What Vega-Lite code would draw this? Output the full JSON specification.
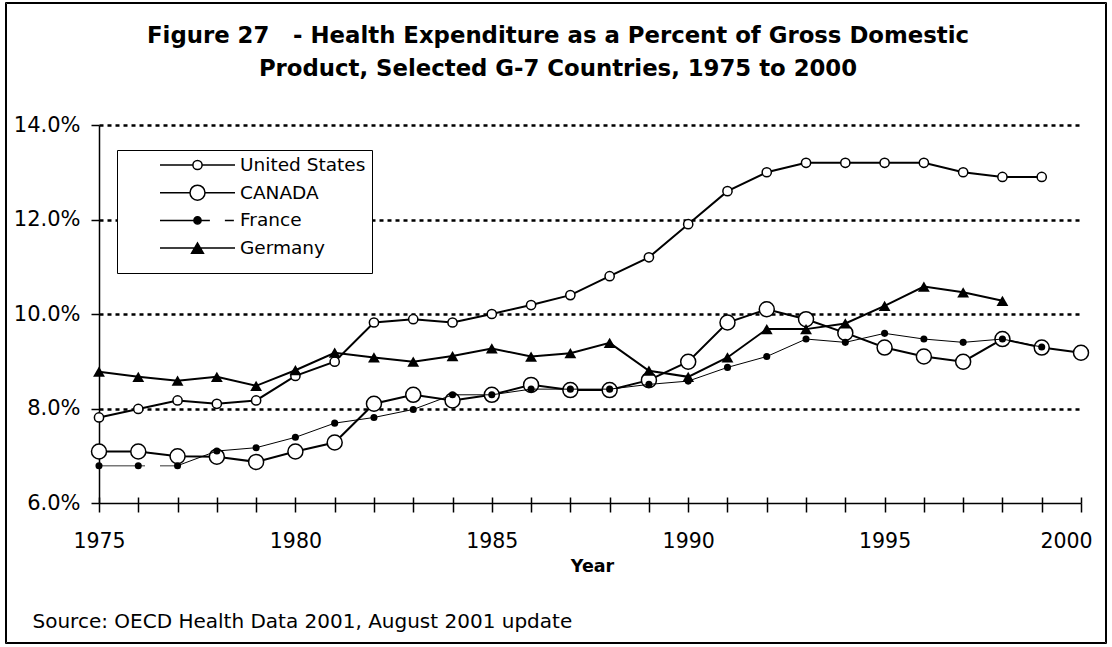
{
  "$schema": "https://vega.github.io/schema/vega-lite/v6.json",
  "width": 982,
  "height": 378,
  "autosize": {"type": "none"},
  "padding": {"left": 99, "top": 125, "right": 31, "bottom": 144},
  "background": "white",
  "title": {
    "text": ["Figure 27\u00a0\u00a0\u00a0- Health Expenditure as a Percent of Gross Domestic", "Product, Selected G-7 Countries, 1975 to 2000"],
    "font": "DejaVu Sans",
    "fontSize": 22.8,
    "fontWeight": "bold",
    "color": "black",
    "lineHeight": 33,
    "anchor": "middle",
    "frame": "group",
    "dx": -32,
    "offset": -79
  },
  "config": {"view": {"stroke": null}, "font": "DejaVu Sans"},
  "data": {
    "values": [
      {"country": "United States", "year": 1975, "value": 7.81},
      {"country": "United States", "year": 1976, "value": 7.99},
      {"country": "United States", "year": 1977, "value": 8.17},
      {"country": "United States", "year": 1978, "value": 8.10},
      {"country": "United States", "year": 1979, "value": 8.17},
      {"country": "United States", "year": 1980, "value": 8.69},
      {"country": "United States", "year": 1981, "value": 8.99},
      {"country": "United States", "year": 1982, "value": 9.82},
      {"country": "United States", "year": 1983, "value": 9.89},
      {"country": "United States", "year": 1984, "value": 9.82},
      {"country": "United States", "year": 1985, "value": 10.0},
      {"country": "United States", "year": 1986, "value": 10.19},
      {"country": "United States", "year": 1987, "value": 10.4},
      {"country": "United States", "year": 1988, "value": 10.8},
      {"country": "United States", "year": 1989, "value": 11.2},
      {"country": "United States", "year": 1990, "value": 11.9},
      {"country": "United States", "year": 1991, "value": 12.6},
      {"country": "United States", "year": 1992, "value": 13.0},
      {"country": "United States", "year": 1993, "value": 13.2},
      {"country": "United States", "year": 1994, "value": 13.2},
      {"country": "United States", "year": 1995, "value": 13.2},
      {"country": "United States", "year": 1996, "value": 13.2},
      {"country": "United States", "year": 1997, "value": 13.0},
      {"country": "United States", "year": 1998, "value": 12.9},
      {"country": "United States", "year": 1999, "value": 12.9},
      {"country": "CANADA", "year": 1975, "value": 7.09},
      {"country": "CANADA", "year": 1976, "value": 7.09},
      {"country": "CANADA", "year": 1977, "value": 6.99},
      {"country": "CANADA", "year": 1978, "value": 6.98},
      {"country": "CANADA", "year": 1979, "value": 6.87},
      {"country": "CANADA", "year": 1980, "value": 7.09},
      {"country": "CANADA", "year": 1981, "value": 7.28},
      {"country": "CANADA", "year": 1982, "value": 8.10},
      {"country": "CANADA", "year": 1983, "value": 8.29},
      {"country": "CANADA", "year": 1984, "value": 8.17},
      {"country": "CANADA", "year": 1985, "value": 8.29},
      {"country": "CANADA", "year": 1986, "value": 8.50},
      {"country": "CANADA", "year": 1987, "value": 8.39},
      {"country": "CANADA", "year": 1988, "value": 8.39},
      {"country": "CANADA", "year": 1989, "value": 8.60},
      {"country": "CANADA", "year": 1990, "value": 8.99},
      {"country": "CANADA", "year": 1991, "value": 9.82},
      {"country": "CANADA", "year": 1992, "value": 10.10},
      {"country": "CANADA", "year": 1993, "value": 9.89},
      {"country": "CANADA", "year": 1994, "value": 9.60},
      {"country": "CANADA", "year": 1995, "value": 9.29},
      {"country": "CANADA", "year": 1996, "value": 9.10},
      {"country": "CANADA", "year": 1997, "value": 8.99},
      {"country": "CANADA", "year": 1998, "value": 9.47},
      {"country": "CANADA", "year": 1999, "value": 9.29},
      {"country": "CANADA", "year": 2000, "value": 9.18},
      {"country": "France", "year": 1975, "value": 6.79},
      {"country": "France", "year": 1976, "value": 6.79},
      {"country": "France", "year": 1977, "value": 6.79},
      {"country": "France", "year": 1978, "value": 7.10},
      {"country": "France", "year": 1979, "value": 7.17},
      {"country": "France", "year": 1980, "value": 7.39},
      {"country": "France", "year": 1981, "value": 7.69},
      {"country": "France", "year": 1982, "value": 7.81},
      {"country": "France", "year": 1983, "value": 7.98},
      {"country": "France", "year": 1984, "value": 8.29},
      {"country": "France", "year": 1985, "value": 8.29},
      {"country": "France", "year": 1986, "value": 8.41},
      {"country": "France", "year": 1987, "value": 8.41},
      {"country": "France", "year": 1988, "value": 8.41},
      {"country": "France", "year": 1989, "value": 8.51},
      {"country": "France", "year": 1990, "value": 8.58},
      {"country": "France", "year": 1991, "value": 8.87},
      {"country": "France", "year": 1992, "value": 9.10},
      {"country": "France", "year": 1993, "value": 9.47},
      {"country": "France", "year": 1994, "value": 9.40},
      {"country": "France", "year": 1995, "value": 9.59},
      {"country": "France", "year": 1996, "value": 9.47},
      {"country": "France", "year": 1997, "value": 9.40},
      {"country": "France", "year": 1998, "value": 9.47},
      {"country": "France", "year": 1999, "value": 9.30},
      {"country": "Germany", "year": 1975, "value": 8.78},
      {"country": "Germany", "year": 1976, "value": 8.67},
      {"country": "Germany", "year": 1977, "value": 8.59},
      {"country": "Germany", "year": 1978, "value": 8.67},
      {"country": "Germany", "year": 1979, "value": 8.48},
      {"country": "Germany", "year": 1980, "value": 8.81},
      {"country": "Germany", "year": 1981, "value": 9.18},
      {"country": "Germany", "year": 1982, "value": 9.08},
      {"country": "Germany", "year": 1983, "value": 8.99},
      {"country": "Germany", "year": 1984, "value": 9.11},
      {"country": "Germany", "year": 1985, "value": 9.27},
      {"country": "Germany", "year": 1986, "value": 9.10},
      {"country": "Germany", "year": 1987, "value": 9.17},
      {"country": "Germany", "year": 1988, "value": 9.39},
      {"country": "Germany", "year": 1989, "value": 8.80},
      {"country": "Germany", "year": 1990, "value": 8.67},
      {"country": "Germany", "year": 1991, "value": 9.08},
      {"country": "Germany", "year": 1992, "value": 9.68},
      {"country": "Germany", "year": 1993, "value": 9.68},
      {"country": "Germany", "year": 1994, "value": 9.80},
      {"country": "Germany", "year": 1995, "value": 10.17},
      {"country": "Germany", "year": 1996, "value": 10.58},
      {"country": "Germany", "year": 1997, "value": 10.46},
      {"country": "Germany", "year": 1998, "value": 10.28}
    ]
  },
  "resolve": {"axis": {"x": "independent"}},
  "layer": [
    {
      "transform": [{"filter": "datum.country === 'United States'"}],
      "mark": {"type": "line", "color": "black", "strokeWidth": 2},
      "encoding": {
        "x": {
          "field": "year", "type": "quantitative",
          "scale": {"domain": [1975, 2000], "nice": false, "zero": false},
          "axis": {
            "orient": "bottom",
            "values": [1975,1976,1977,1978,1979,1980,1981,1982,1983,1984,1985,1986,1987,1988,1989,1990,1991,1992,1993,1994,1995,1996,1997,1998,1999,2000],
            "grid": false,
            "domainColor": "black", "domainWidth": 1.5,
            "tickColor": "black", "tickWidth": 1.5, "tickSize": 9,
            "labelExpr": "datum.value % 5 === 0 ? format(datum.value, 'd') : ''",
            "labelFont": "DejaVu Sans", "labelFontSize": 20.5, "labelColor": "black",
            "labelBaseline": "alphabetic", "labelPadding": 35,
            "labelOverlap": false, "labelFlush": false,
            "labelOffset": {"condition": {"test": "datum.value === 2000", "value": -15}, "value": 0},
            "title": "Year",
            "titleFont": "DejaVu Sans", "titleFontSize": 17.5, "titleFontWeight": "bold", "titleColor": "black",
            "titleBaseline": "alphabetic", "titleY": 68, "titleX": 493, "titleAlign": "center"
          }
        },
        "y": {
          "field": "value", "type": "quantitative",
          "scale": {"domain": [6, 14], "nice": false, "zero": false},
          "axis": {
            "values": [6, 8, 10, 12, 14],
            "labelExpr": "format(datum.value, '.1f') + '%'",
            "domainColor": "black", "domainWidth": 1.5,
            "tickColor": "black", "tickWidth": 1.5, "tickSize": 8,
            "labelFont": "DejaVu Sans", "labelFontSize": 21, "labelColor": "black", "labelPadding": 11,
            "grid": true, "gridColor": "black", "gridDash": [4, 4], "gridWidth": 2.4,
            "gridOpacity": {"condition": {"test": "datum.value === 6", "value": 0}, "value": 1},
            "title": null
          }
        }
      }
    },
    {
      "transform": [{"filter": "datum.country === 'United States'"}],
      "mark": {"type": "point", "shape": "circle", "filled": true, "fill": "white", "stroke": "black", "strokeWidth": 1.5, "size": 85, "opacity": 1},
      "encoding": {
        "x": {"field": "year", "type": "quantitative", "axis": null},
        "y": {"field": "value", "type": "quantitative"}
      }
    },
    {
      "transform": [{"filter": "datum.country === 'CANADA'"}],
      "mark": {"type": "line", "color": "black", "strokeWidth": 2},
      "encoding": {
        "x": {"field": "year", "type": "quantitative", "axis": null},
        "y": {"field": "value", "type": "quantitative"}
      }
    },
    {
      "transform": [{"filter": "datum.country === 'CANADA'"}],
      "mark": {"type": "point", "shape": "circle", "filled": true, "fill": "white", "stroke": "black", "strokeWidth": 1.5, "size": 225, "opacity": 1},
      "encoding": {
        "x": {"field": "year", "type": "quantitative", "axis": null},
        "y": {"field": "value", "type": "quantitative"}
      }
    },
    {
      "transform": [{"filter": "datum.country === 'France' && datum.year <= 1977"}],
      "mark": {"type": "line", "color": "#777777", "strokeWidth": 1.5, "strokeDash": [46, 15]},
      "encoding": {
        "x": {"field": "year", "type": "quantitative", "axis": null},
        "y": {"field": "value", "type": "quantitative"}
      }
    },
    {
      "transform": [{"filter": "datum.country === 'France' && datum.year >= 1977"}],
      "mark": {"type": "line", "color": "black", "strokeWidth": 1},
      "encoding": {
        "x": {"field": "year", "type": "quantitative", "axis": null},
        "y": {"field": "value", "type": "quantitative"}
      }
    },
    {
      "transform": [{"filter": "datum.country === 'France'"}],
      "mark": {"type": "point", "shape": "circle", "filled": true, "fill": "black", "strokeWidth": 0, "size": 50, "opacity": 1},
      "encoding": {
        "x": {"field": "year", "type": "quantitative", "axis": null},
        "y": {"field": "value", "type": "quantitative"}
      }
    },
    {
      "transform": [{"filter": "datum.country === 'Germany'"}],
      "mark": {"type": "line", "color": "black", "strokeWidth": 2},
      "encoding": {
        "x": {"field": "year", "type": "quantitative", "axis": null},
        "y": {"field": "value", "type": "quantitative"}
      }
    },
    {
      "transform": [{"filter": "datum.country === 'Germany'"}],
      "mark": {"type": "point", "shape": "triangle-up", "filled": true, "fill": "black", "strokeWidth": 0, "size": 140, "opacity": 1},
      "encoding": {
        "x": {
          "field": "year", "type": "quantitative",
          "axis": {
            "orient": "bottom",
            "values": [1975,1976,1977,1978,1979,1980,1981,1982,1983,1984,1985,1986,1987,1988,1989,1990,1991,1992,1993,1994,1995,1996,1997,1998,1999,2000],
            "domain": false, "labels": false, "grid": false,
            "ticks": true, "tickColor": "black", "tickWidth": 1.5, "tickSize": -6,
            "title": "Source: OECD Health Data 2001, August 2001 update",
            "titleFont": "DejaVu Sans", "titleFontSize": 20, "titleFontWeight": "normal", "titleColor": "black",
            "titleX": -67, "titleY": 124, "titleAlign": "left", "titleBaseline": "alphabetic", "titleAnchor": "start"
          }
        },
        "y": {"field": "value", "type": "quantitative"}
      }
    },
    {
      "transform": [{"filter": "false"}],
      "mark": {"type": "point", "filled": true, "stroke": "black", "strokeWidth": 1.5, "size": 5625, "opacity": 1},
      "encoding": {
        "x": {"field": "year", "type": "quantitative", "axis": null},
        "y": {"field": "value", "type": "quantitative"},
        "shape": {
          "field": "country", "type": "nominal",
          "scale": {
            "domain": ["United States", "CANADA", "France", "Germany"],
            "range": [
              "M-1,0H-0.123M0.123,0H1M-0.123,0A0.123,0.123,0,1,0,0.123,0A0.123,0.123,0,1,0,-0.123,0Z",
              "M-1,0H-0.2M0.2,0H1M-0.2,0A0.2,0.2,0,1,0,0.2,0A0.2,0.2,0,1,0,-0.2,0Z",
              "M-1,0H0.33M0.73,0H0.97M-0.096,0A0.096,0.096,0,1,0,0.096,0A0.096,0.096,0,1,0,-0.096,0Z",
              "M-1,0H1M-0.157,0.136L0,-0.136L0.157,0.136Z"
            ]
          },
          "legend": {
            "orient": "none", "legendX": 18, "legendY": 25,
            "title": " ", "titleOrient": "bottom", "titleFontSize": 2, "titlePadding": 7,
            "padding": 6, "strokeColor": "black", "fillColor": "white",
            "symbolSize": 5625, "symbolStrokeWidth": 1.5, "symbolOffset": 36, "labelOffset": 4,
            "clipHeight": 18, "rowPadding": 8.7,
            "labelFont": "DejaVu Sans", "labelFontSize": 18.5, "labelColor": "black", "labelLimit": 0
          }
        },
        "fill": {
          "field": "country", "type": "nominal",
          "scale": {"domain": ["United States", "CANADA", "France", "Germany"], "range": ["white", "white", "black", "black"]}
        }
      }
    },
    {
      "transform": [{"filter": "false"}],
      "mark": {"type": "point", "filled": true, "opacity": 1},
      "encoding": {
        "x": {"field": "year", "type": "quantitative", "axis": null},
        "y": {"field": "value", "type": "quantitative"},
        "color": {
          "field": "value", "type": "quantitative",
          "scale": {"domain": [0, 1], "range": ["white", "white"]},
          "legend": {
            "orient": "none", "legendX": -94, "legendY": -123,
            "direction": "horizontal", "title": null,
            "padding": 0, "strokeColor": "black", "fillColor": "transparent",
            "gradientLength": 1101, "gradientThickness": 640,
            "gradientOpacity": 0, "gradientStrokeWidth": 0,
            "labelOpacity": 0, "labelFontSize": 1, "labelOffset": 0
          }
        }
      }
    },
    {
      "transform": [{"filter": "false"}],
      "mark": {"type": "point", "filled": false, "opacity": 1},
      "encoding": {
        "x": {"field": "year", "type": "quantitative", "axis": null},
        "y": {"field": "value", "type": "quantitative"},
        "stroke": {
          "field": "year", "type": "quantitative",
          "scale": {"domain": [0, 2], "range": ["white", "white"]},
          "legend": {
            "orient": "none", "legendX": -93, "legendY": -122,
            "direction": "horizontal", "title": null,
            "padding": 0, "strokeColor": "black", "fillColor": "transparent",
            "gradientLength": 1099, "gradientThickness": 638,
            "gradientOpacity": 0, "gradientStrokeWidth": 0,
            "labelOpacity": 0, "labelFontSize": 1, "labelOffset": 0
          }
        }
      }
    }
  ]
}
